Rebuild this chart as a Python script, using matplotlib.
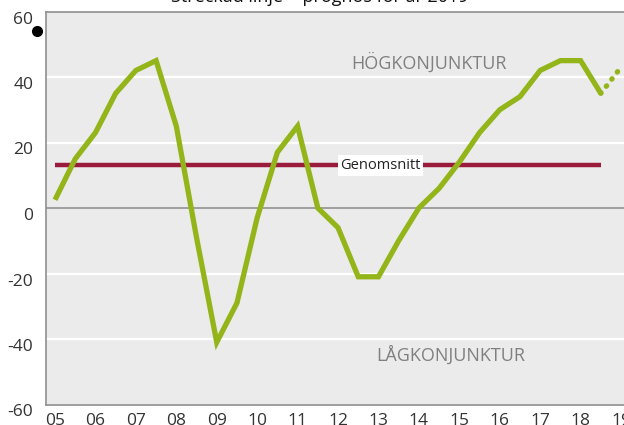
import matplotlib
matplotlib.use("Agg")
from matplotlib import pyplot as plt
from matplotlib.transforms import offset_copy

# half-year points, 2005.0 .. 2018.5 (x as two-digit year)
years = [5.0, 5.5, 6.0, 6.5, 7.0, 7.5, 8.0, 8.5, 9.0, 9.5, 10.0, 10.5, 11.0, 11.5,
         12.0, 12.5, 13.0, 13.5, 14.0, 14.5, 15.0, 15.5, 16.0, 16.5, 17.0, 17.5,
         18.0, 18.5]
values = [2.5, 15, 23, 35, 42, 45, 25, -9, -41, -29, -3, 17, 25, 0,
          -6, -21, -21, -10, 0, 6, 14, 23, 30, 34, 42, 45,
          45, 35]
# forecast (dotted)
fc_years = [18.5, 19.0]
fc_values = [35, 43]
# average line
avg_years = [5.0, 18.5]
avg_value = 13

xticks = list(range(5, 20))
xlabels = ["%02d" % y for y in xticks]
yticks = [-60, -40, -20, 0, 20, 40, 60]

green = "#93b51a"
red = "#9a1b3c"

plt.rcParams['font.family'] = ['Open Sans', 'DejaVu Sans']

fig = plt.figure(figsize=(6.24, 4.25), dpi=100)
ax = fig.add_axes([46 / 624, 20.5 / 425, 590 / 624, 393 / 425])
ax.set_facecolor("#ebebeb")

ax.set_xlim(4.777, 4.777 + 590 / 40.43)
ax.set_ylim(-60, 60)

# grid
for g in [-40, -20, 20, 40]:
    ax.axhline(g, color="white", lw=1.6, zorder=1)
ax.axhline(0, color="#8a8a8a", lw=1.1, zorder=1)

# average
ax.plot(avg_years, [avg_value, avg_value], color=red, lw=3.2,
        solid_capstyle="butt", zorder=2)
ax.text(13.05, avg_value, "Genomsnitt", ha="center", va="center", fontsize=10.5,
        color="#222222", zorder=3,
        bbox=dict(facecolor="white", edgecolor="none", pad=2))

# series
ax.plot(years, values, color=green, lw=3.8, solid_joinstyle="miter",
        solid_capstyle="butt", zorder=4)
ax.plot(fc_years, fc_values, color=green, lw=3.8, linestyle=(0, (0.1, 1.6)),
        dash_capstyle="round", zorder=4)

ax.text(14.25, 44.5, "HÖGKONJUNKTUR", ha="center", va="center",
        fontsize=13, color="#808080")
ax.text(14.8, -44.8, "LÅGKONJUNKTUR", ha="center", va="center",
        fontsize=13, color="#808080")

ax.set_xticks(xticks)
ax.set_xticklabels(xlabels)
ax.set_yticks(yticks)
ax.set_yticklabels([str(v) for v in yticks])
ax.tick_params(axis="both", length=0, labelsize=12.5, colors="#333333")
ax.tick_params(axis="x", pad=6)
ax.tick_params(axis="y", pad=9)
for lab in ax.get_yticklabels():
    lab.set_transform(offset_copy(lab.get_transform(), fig=fig, x=0, y=-6, units="dots"))

for s in ["left", "top", "bottom"]:
    ax.spines[s].set_color("#8f8f8f")
    ax.spines[s].set_linewidth(1.2)
ax.spines["right"].set_visible(False)

# clipped heading at the very top
fig.text(320 / 624, 1 - 2.5 / 425, "Streckad linje = prognos för år 2019",
         ha="center", va="baseline", fontsize=13, color="#111111")

# stray bullet
ax.plot([37 / 624], [1 - 31 / 425], marker="o", markersize=7, color="black",
        transform=fig.transFigure, clip_on=False)

fig.savefig("out.png", dpi=100)
